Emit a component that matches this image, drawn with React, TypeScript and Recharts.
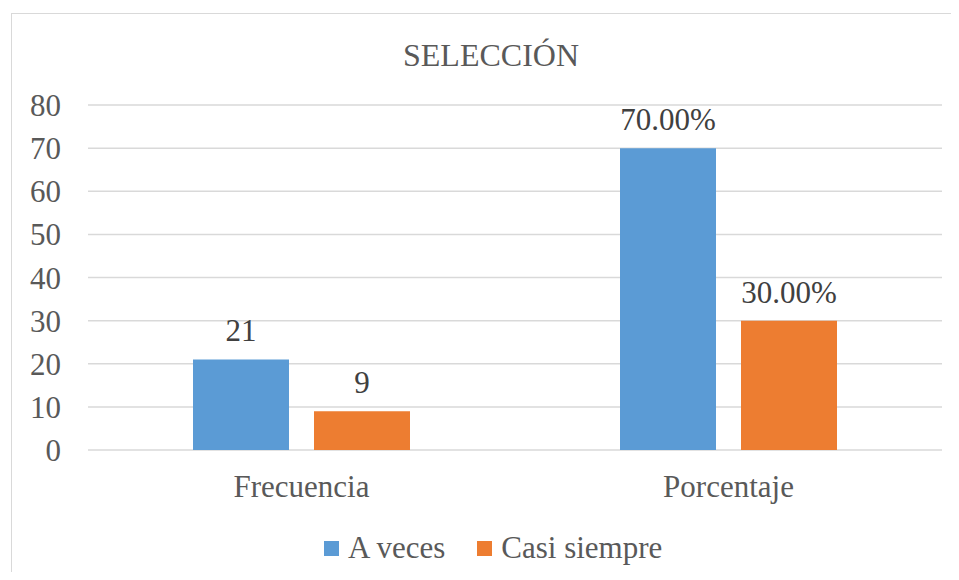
import React from 'react';
import { BarChart, Bar, XAxis, YAxis, CartesianGrid, LabelList } from 'recharts';

const categories = ['Frecuencia', 'Porcentaje'];
const aVeces = [21, 70];
const casiSiempre = [9, 30];
const aVecesLabels = ['21', '70.00%'];
const casiSiempreLabels = ['9', '30.00%'];
const yTicks = [0, 10, 20, 30, 40, 50, 60, 70, 80];
const seriesNames = ['A veces', 'Casi siempre'];
const seriesColors = ['#5B9BD5', '#ED7D31'];

const data = categories.map((name, i) => ({
  name,
  aVeces: aVeces[i],
  casiSiempre: casiSiempre[i],
  aVecesLabel: aVecesLabels[i],
  casiSiempreLabel: casiSiempreLabels[i],
}));

const font = 'Liberation Serif, DejaVu Serif';
const textColor = '#595959';

const App: React.FC = () => {
  return (
    <div style={{ position: 'relative', width: 959, height: 580, margin: -8, overflow: 'hidden', background: '#fff', fontFamily: font }}>
      <div
        style={{
          position: 'absolute',
          left: 11,
          top: 13,
          width: 980,
          height: 600,
          border: '1px solid #d9d9d9',
          boxSizing: 'border-box',
        }}
      />
      <div
        style={{
          position: 'absolute',
          left: 0,
          top: 37,
          width: 982,
          textAlign: 'center',
          fontSize: 32,
          color: textColor,
        }}
      >
        SELECCIÓN
      </div>
      <div style={{ position: 'absolute', left: 0, top: 0 }}>
        <BarChart
          width={959}
          height={580}
          data={data}
          margin={{ top: 105, right: 17, left: 0, bottom: 70 }}
          barSize={96}
          barGap={25}
          style={{ fontFamily: font }}
        >
          <CartesianGrid vertical={false} stroke="#d9d9d9" strokeWidth={1.5} />
          <XAxis
            dataKey="name"
            axisLine={false}
            tickLine={false}
            height={60}
            tickMargin={19}
            tick={{ fill: textColor, fontSize: 31, fontFamily: font }}
          />
          <YAxis
            domain={[0, 80]}
            ticks={yTicks}
            axisLine={false}
            tickLine={false}
            width={88}
            tickMargin={21}
            interval={0}
            tick={{ fill: textColor, fontSize: 31, fontFamily: font }}
          />
          <Bar dataKey="aVeces" name={seriesNames[0]} fill={seriesColors[0]} isAnimationActive={false}>
            <LabelList dataKey="aVecesLabel" position="top" offset={18} fill="#404040" fontSize={31} fontFamily={font} />
          </Bar>
          <Bar dataKey="casiSiempre" name={seriesNames[1]} fill={seriesColors[1]} isAnimationActive={false}>
            <LabelList dataKey="casiSiempreLabel" position="top" offset={18} fill="#404040" fontSize={31} fontFamily={font} />
          </Bar>
        </BarChart>
      </div>
      <div
        style={{
          position: 'absolute',
          left: 324,
          top: 530,
          display: 'flex',
          alignItems: 'center',
          fontSize: 31,
          color: textColor,
        }}
      >
        {seriesNames.map((n, i) => (
          <div key={n} style={{ display: 'flex', alignItems: 'center', marginRight: 32 }}>
            <span style={{ display: 'inline-block', width: 15, height: 15, background: seriesColors[i], marginRight: 9 }} />
            <span>{n}</span>
          </div>
        ))}
      </div>
    </div>
  );
};

export default App;
